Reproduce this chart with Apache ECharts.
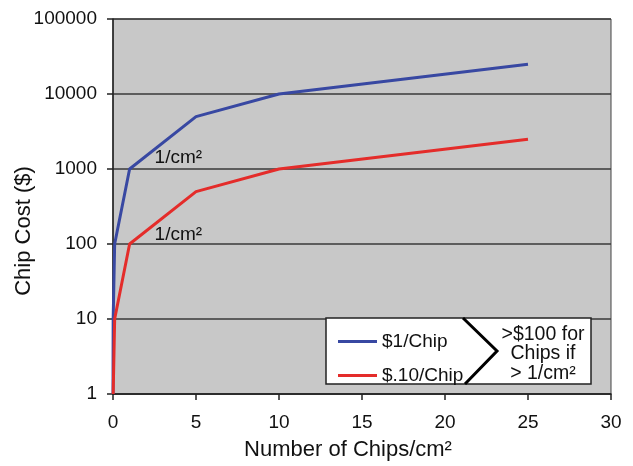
<!DOCTYPE html>
<html>
<head>
<meta charset="utf-8">
<script src="https://cdn.jsdelivr.net/npm/echarts@6/dist/echarts.min.js"></script>
<style>
html,body{margin:0;padding:0;background:#fff;}
#chart{width:633px;height:466px;}
</style>
</head>
<body>
<div id="chart"></div>
<script>
// Data
var seriesNames = ['$1/Chip', '$.10/Chip'];
var blueX = [0.001, 0.01, 0.1, 1, 5, 10, 25];
var blueY = [1, 10, 100, 1000, 5000, 10000, 25000];
var redX = [0.01, 0.1, 1, 5, 10, 25];
var redY = [1, 10, 100, 500, 1000, 2500];
var yTicks = [1, 10, 100, 1000, 10000, 100000];
var xTicks = [0, 5, 10, 15, 20, 25, 30];
var xTitle = 'Number of Chips/cm²';
var yTitle = 'Chip Cost ($)';
var pointNote = '1/cm²';
var noteLines = ['>$100 for', 'Chips if', '> 1/cm²'];

var font = 'Liberation Sans, Arial, sans-serif';

function pairs(xs, ys, noteAt, dy) {
  return xs.map(function (x, i) {
    var d = { value: [x, ys[i]] };
    if (x === noteAt) {
      d.label = {
        show: true, formatter: pointNote, position: 'right',
        offset: [20, dy], color: '#111', fontSize: 19, fontFamily: font
      };
    }
    return d;
  });
}

var chart = echarts.init(document.getElementById('chart'), null, { renderer: 'canvas' });
chart.setOption({
  animation: false,
  backgroundColor: '#ffffff',
  grid: {
    left: 113, right: 22, top: 19, bottom: 72,
    show: true, backgroundColor: '#c8c8c8', borderColor: '#444', borderWidth: 1
  },
  xAxis: {
    type: 'value', min: xTicks[0], max: xTicks[xTicks.length - 1], interval: 5,
    axisLine: { show: true, lineStyle: { color: '#222', width: 1.5 } },
    axisTick: { show: true, length: 6, lineStyle: { color: '#222', width: 1.5 } },
    axisLabel: { fontSize: 19, color: '#111', margin: 19, fontFamily: font },
    splitLine: { show: false }
  },
  yAxis: {
    type: 'log', logBase: 10, min: yTicks[0], max: yTicks[yTicks.length - 1],
    axisLine: { show: true, lineStyle: { color: '#222', width: 1.5 } },
    axisTick: { show: true, length: 6, inside: false, lineStyle: { color: '#222', width: 1.5 } },
    axisLabel: {
      fontSize: 19, color: '#111', margin: 16, fontFamily: font,
      formatter: function (v) { return String(Math.round(v)); }
    },
    splitLine: { show: true, lineStyle: { color: '#3a3a3a', width: 1.5 } }
  },
  legend: {
    data: seriesNames,
    orient: 'vertical', left: 333, top: 327, z: 10,
    itemWidth: 39, itemHeight: 3, itemGap: 15,
    textStyle: { fontSize: 19, color: '#111', fontFamily: font },
    icon: 'rect'
  },
  graphic: [
    {
      type: 'rect', z: 5, shape: { x: 326, y: 318, width: 265, height: 66 },
      style: { fill: '#fff', stroke: '#222', lineWidth: 1.5 }
    },
    {
      type: 'polyline', z: 6, shape: { points: [[463, 318], [497, 351], [465, 384]] },
      style: { stroke: '#000', lineWidth: 3, fill: null }
    },
    {
      type: 'text', z: 6, x: 543, y: 354,
      style: {
        text: noteLines.join('\n'), fontSize: 19.5, lineHeight: 19.5,
        align: 'center', verticalAlign: 'middle', fill: '#111', fontFamily: font
      }
    },
    {
      type: 'text', z: 6, x: 348, y: 450,
      style: {
        text: xTitle, fontSize: 22, align: 'center', verticalAlign: 'middle',
        fill: '#111', fontFamily: font
      }
    },
    {
      type: 'text', z: 6, x: 24, y: 231, rotation: Math.PI / 2,
      style: {
        text: yTitle, fontSize: 22, align: 'center', verticalAlign: 'middle',
        fill: '#111', fontFamily: font
      }
    }
  ],
  series: [
    {
      name: seriesNames[0], type: 'line', symbol: 'circle', symbolSize: 0.01, showSymbol: true,
      data: pairs(blueX, blueY, 1, -11),
      lineStyle: { color: '#3848a2', width: 3 }, itemStyle: { color: '#3848a2' }
    },
    {
      name: seriesNames[1], type: 'line', symbol: 'circle', symbolSize: 0.01, showSymbol: true,
      data: pairs(redX, redY, 1, -9),
      lineStyle: { color: '#e42c2a', width: 3 }, itemStyle: { color: '#e42c2a' }
    }
  ]
});
</script>
</body>
</html>
